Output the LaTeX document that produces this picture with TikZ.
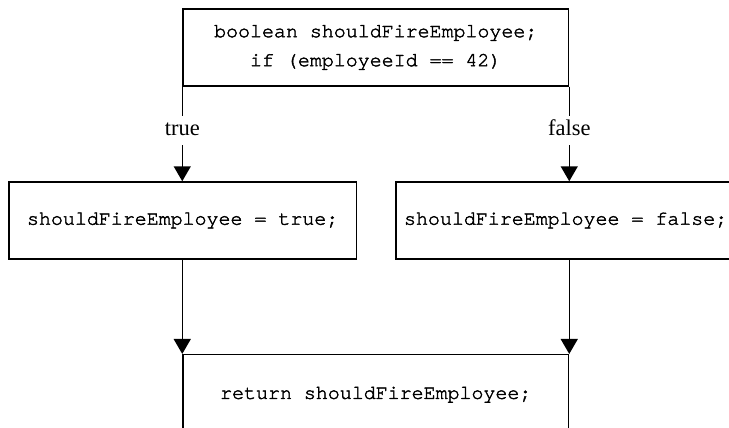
\documentclass[tikz,border=0pt]{standalone}
\usepackage{fontspec}
\setmainfont{Liberation Serif}
\newfontfamily\codefont[FakeBold=2]{texgyrecursor-regular.otf}
\usetikzlibrary{arrows.meta}
\begin{document}
\begin{tikzpicture}[x=1pt,y=-1pt,
  codebox/.style={draw, line width=1.5pt, rectangle, inner sep=0pt,
    font=\fontsize{19.95}{29}\selectfont\codefont, align=center},
  flow/.style={line width=1.5pt, -{Triangle[width=17pt,length=15pt]}},
  branch/.style={fill=white, inner xsep=3pt, inner ysep=4pt,
    text height=16pt, text depth=5pt, font=\fontsize{22.5}{27}\selectfont}]
\useasboundingbox (0,0) rectangle (729,428);

% statement boxes
\node[codebox, minimum width=385.5pt, minimum height=77pt] (cond) at (375.75,47.5)
  {boolean shouldFireEmployee;\\if (employeeId == 42)};
\node[codebox, minimum width=347.3pt, minimum height=77pt] (yes) at (182.65,220.5)
  {shouldFireEmployee = true;};
\node[codebox, anchor=west, minimum height=77pt, inner xsep=8pt] (no) at (395.3,220.5)
  {\makebox[332pt][l]{shouldFireEmployee = false;}};
\node[codebox, minimum width=385.5pt, minimum height=80pt] (ret) at (375.75,394.7)
  {return shouldFireEmployee;};

% branches out of the condition
\draw[flow] (cond.south west) -- (cond.south west |- yes.north)
  node[branch, pos=0.46] (tlabel) {true};
\draw[flow] (cond.south east) -- (cond.south east |- no.north)
  node[branch, pos=0.46] (flabel) {false};

% both branches join at the return statement
\draw[flow] (yes.south -| ret.west) -- (ret.north west);
\draw[flow] (no.south -| ret.east) -- (ret.north east);
\end{tikzpicture}
\end{document}
